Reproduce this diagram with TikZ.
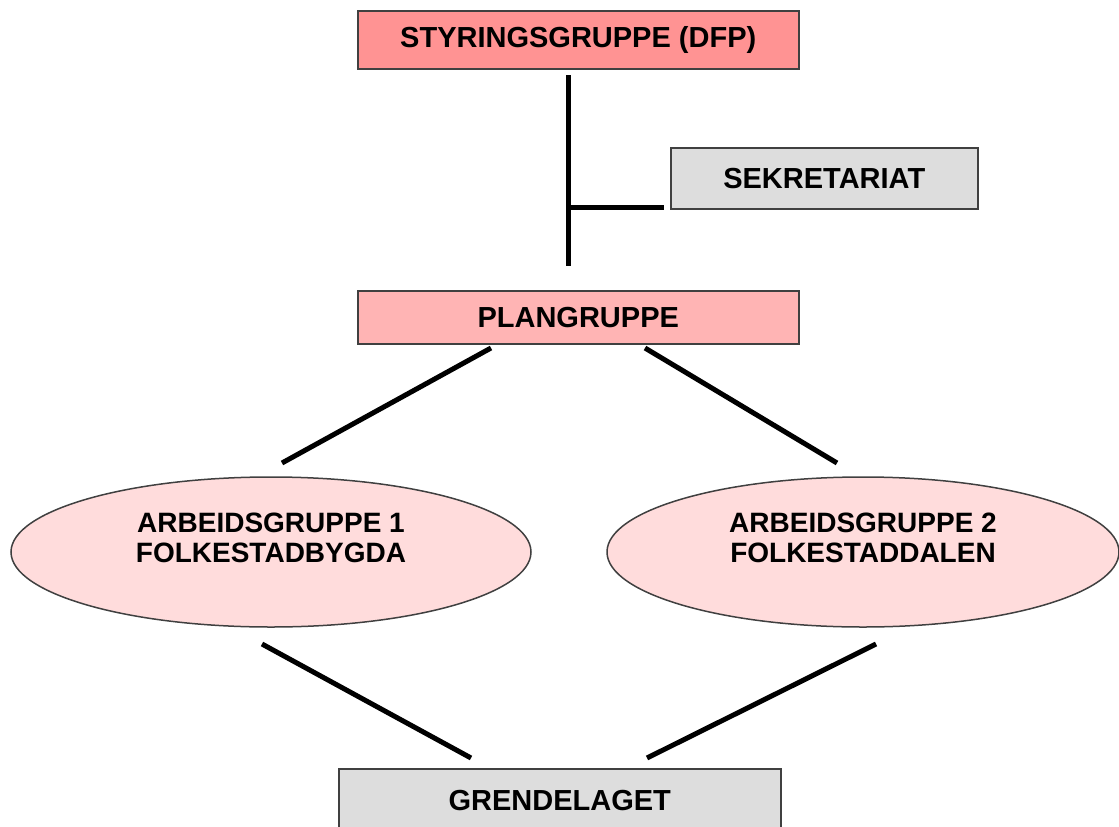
\documentclass[tikz,border=0pt]{standalone}
\usepackage{fontspec}
\setmainfont{Liberation Sans}
\usetikzlibrary{shapes.geometric}
\definecolor{pinkA}{HTML}{FF9393}
\definecolor{pinkB}{HTML}{FFB4B4}
\definecolor{pinkC}{HTML}{FFDCDC}
\definecolor{greyA}{HTML}{DDDDDD}
\definecolor{edgeA}{HTML}{404040}
\begin{document}
\begin{tikzpicture}[x=1pt,y=-1pt,
  lbl/.style={font=\fontsize{29}{30}\selectfont\bfseries, align=center, inner sep=0pt},
  elbl/.style={font=\fontsize{28}{30}\selectfont\bfseries, align=center, inner sep=0pt},
  boxA/.style={lbl, draw=edgeA, line width=1.5pt, rectangle, anchor=north west},
  ellA/.style={draw=edgeA, line width=1.5pt, ellipse, fill=pinkC, inner sep=0pt},
  link/.style={line width=5pt, black}]
\useasboundingbox (0,0) rectangle (1119,827);
\begin{scope}
\clip (0,0) rectangle (1119,827);
\node[boxA, fill=pinkA, minimum width=441pt, minimum height=58pt] (styr) at (357,10) {STYRINGSGRUPPE (DFP)};
\node[boxA, fill=greyA, minimum width=307pt, minimum height=61pt] (sekr) at (670,147) {SEKRETARIAT};
\node[boxA, fill=pinkB, minimum width=441pt, minimum height=53pt] (plan) at (357,290) {PLANGRUPPE};
\node[ellA, minimum width=520pt, minimum height=150pt,
  label={[elbl, yshift=14pt]center:ARBEIDSGRUPPE 1\\FOLKESTADBYGDA}] (arb1) at (271,552) {};
\node[ellA, minimum width=512pt, minimum height=150pt,
  label={[elbl, yshift=14pt]center:ARBEIDSGRUPPE 2\\FOLKESTADDALEN}] (arb2) at (863,552) {};
\node[boxA, fill=greyA, minimum width=442pt, minimum height=64pt] (grend) at (338,768) {GRENDELAGET};
\end{scope}
\coordinate (vtop) at (568,75);
\coordinate (vbot) at (568,266);
\coordinate (vmid) at (568,207);
\coordinate (sekrL) at (664,207);
\coordinate (planL) at (491,348);
\coordinate (planR) at (645,348);
\coordinate (arb1T) at (282,463);
\coordinate (arb2T) at (837,463);
\coordinate (arb1B) at (262,644);
\coordinate (arb2B) at (876,644);
\coordinate (grendL) at (471,758);
\coordinate (grendR) at (647,758);
\draw[link] (vtop) -- (vbot);
\draw[link] (vmid) -- (sekrL);
\draw[link] (planL) -- (arb1T);
\draw[link] (planR) -- (arb2T);
\draw[link] (arb1B) -- (grendL);
\draw[link] (arb2B) -- (grendR);
\end{tikzpicture}
\end{document}
